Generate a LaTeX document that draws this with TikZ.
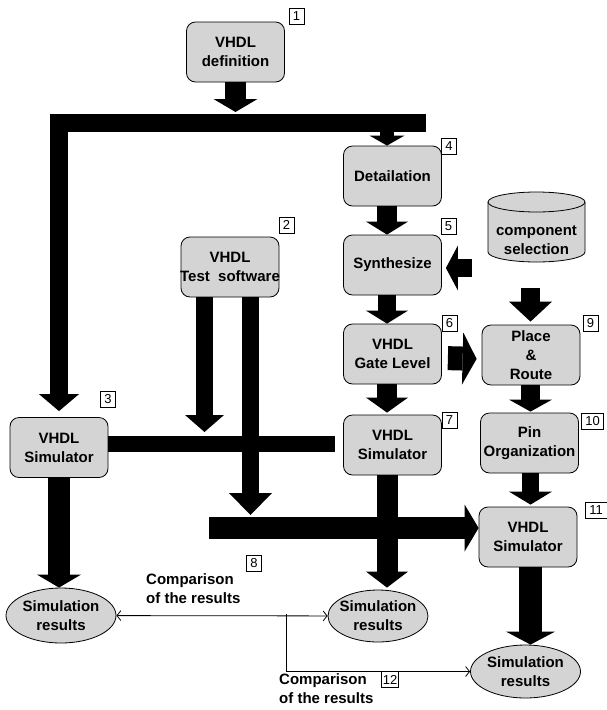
\documentclass[tikz,border=0pt]{standalone}
\usepackage{fontspec}
\setmainfont{Liberation Sans}
\usetikzlibrary{arrows.meta,shapes.geometric}
\definecolor{boxgray}{RGB}{212,212,212}

\begin{document}
\begin{tikzpicture}[x=1pt,y=-1pt,
  box/.style={draw, line width=0.8pt, rounded corners=9pt, fill=boxgray, minimum width=98pt, minimum height=60pt, inner sep=1pt, align=center, font=\bfseries\fontsize{15}{19}\selectfont},
  res/.style={draw, line width=0.8pt, ellipse, fill=boxgray, inner xsep=-10pt, inner ysep=-6pt, align=center, font=\bfseries\fontsize{15}{19}\selectfont},
  num/.style={draw, line width=0.6pt, minimum width=15pt, minimum height=16pt, inner sep=0.5pt, font=\fontsize{13}{13}\selectfont},
  fat/.style n args={3}{line width=#1pt, -{Triangle[width=#2pt,length=#3pt,line width=0pt]}},
  cmp/.style={line width=0.8pt},
  barb/.tip={Straight Barb[length=4pt,width=10pt]}]
\useasboundingbox (0,0) rectangle (607,710);

% Boxes
\node[box] (def) at (235.5,52) {VHDL\\definition};
\node[box] (detail) at (392.5,176) {Detailation};
\node[box, inner xsep=-6pt] (testsw) at (230,267) {VHDL\\Test\ \ software};
\node[box] (synth) at (392.5,265) {Synthesize};
\node[box] (gate) at (392.5,354) {VHDL\\Gate Level};
\node[box] (place) at (531,355) {Place\\\&\\Route};
\node[box] (simA) at (59,447.5) {VHDL\\Simulator};
\node[box] (simB) at (392.5,445) {VHDL\\Simulator};
\node[box] (pins) at (529.5,443) {Pin\\Organization};
\node[box] (simC) at (528,537) {VHDL\\Simulator};

% Component selection (cylinder)
\draw[cmp, fill=boxgray] (488,202) -- (488,252) arc[start angle=180, end angle=0, x radius=48.5, y radius=10]
  -- (585,202) arc[start angle=0, end angle=-180, x radius=48.5, y radius=10] -- cycle;
\draw[cmp] (488,202) arc[start angle=180, end angle=0, x radius=48.5, y radius=10];
\node[font=\bfseries\fontsize{15}{19}\selectfont, align=center] (cyl) at (536.5,240) {component\\selection};

% Results
\node[res, minimum width=110pt, minimum height=55pt] (resA) at (61,615.5) {Simulation\\results};
\node[res, minimum width=100pt, minimum height=52pt] (resB) at (378,616) {Simulation\\results};
\node[res, minimum width=110pt, minimum height=53pt] (resC) at (525.5,671.5) {Simulation\\results};

% Step numbers
\node[num] (n1) at (296.5,16.5) {1};
\node[num] (n2) at (286.5,225) {2};
\node[num] (n3) at (108,399) {3};
\node[num] (n4) at (449,146) {4};
\node[num] (n5) at (448.5,226.5) {5};
\node[num] (n6) at (449.5,323) {6};
\node[num] (n7) at (449.5,420) {7};
\node[num] (n8) at (254,563) {8};
\node[num] (n9) at (590.5,323.5) {9};
\node[num, minimum width=22pt] (n10) at (592.5,421.5) {10};
\node[num, minimum width=22pt] (n11) at (596,510) {11};
\node[num, minimum width=17pt] (n12) at (390,679.5) {12};

% Free ends of the bars
\coordinate (barTop) at (235.5,112);
\coordinate (barR) at (426,122.5);
\coordinate (barD) at (387,131);
\coordinate (cylL) at (472,268);
\coordinate (cylD) at (530.5,288);
\coordinate (swA) at (204.5,432);
\coordinate (swB) at (250.5,515);
\coordinate (barM) at (335,444);
\coordinate (barS) at (209,528);
\coordinate (cmpJ) at (286,614);

% Definition and left branch
\draw[fat={21}{44}{13}] (def) -- (barTop);
\draw[fat={18}{40}{17}, shorten >=6pt] (barR) -| (simA);
\draw[fat={22}{44}{13}] (simA.south) -- (simA.south |- resA.north);

% Middle column
\draw[fat={14}{35}{10}] (barD) -- (detail.north -| barD);
\draw[fat={20}{42}{13}] (detail.south -| barD) -- (synth.north -| barD);
\draw[fat={18}{42}{13}] (synth.south -| barD) -- (gate.north -| barD);
\draw[fat={20}{42}{15}, shorten >=2pt] (gate.south -| barD) -- (simB.north -| barD);
\draw[fat={21}{42}{16}, shorten >=2pt] (simB.south -| barD) -- (resB.north -| barD);

% Right column
\draw[fat={18}{45}{12}, shorten >=4pt] (cylL) -- (cylL -| synth.east);
\draw[fat={19}{43}{20}, shorten >=3pt] (cylD) -- (place.north -| cylD);
\draw[fat={24}{52}{14}, shorten <=6pt, shorten >=5pt] ([yshift=-4pt]gate.east) -- ([yshift=-4pt]place.west);
\draw[fat={19}{43}{12}, shorten >=1pt] (place.south -| cylD) -- (pins.north -| cylD);
\draw[fat={17}{43}{13}, shorten >=2pt] (pins.south -| cylD) -- (simC.north -| cylD);
\draw[fat={23}{49}{13}] (simC.south -| cylD) -- (resC.north -| cylD);

% Test software
\draw[fat={17}{39}{17}] (testsw.south -| swA) -- (swA);
\draw[fat={17}{43}{22}] (testsw.south -| swB) -- (swB);
\draw[line width=16pt] (simA.east |- barM) -- (barM);
\draw[fat={22}{47}{14}] (barS) -- (barS -| simC.west);

% Comparison of the results
\draw[cmp, barb-barb] (resA) -- (resB);
\draw[cmp, -barb] (cmpJ) |- (resC);
\node[anchor=north west, inner sep=0pt, align=left, font=\bfseries\fontsize{15}{19}\selectfont] (cmpA) at (146,573) {Comparison\\of the results};
\node[anchor=north west, inner sep=0pt, align=left, font=\bfseries\fontsize{15}{19}\selectfont] (cmpB) at (279,673) {Comparison\\of the results};
\end{tikzpicture}
\end{document}
